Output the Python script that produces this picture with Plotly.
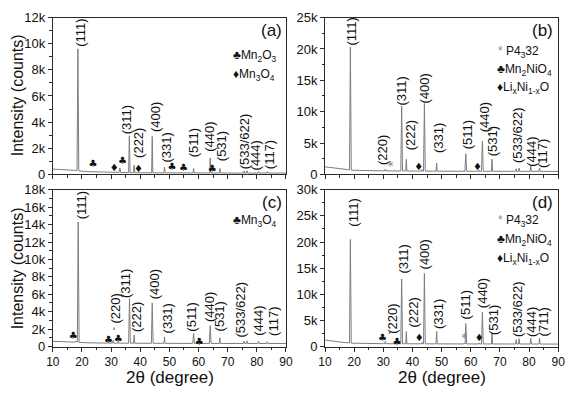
import plotly.graph_objects as go

# ---------------- data ----------------
# Panel (a)
xa = [10, 13, 16, 18.3, 18.6, 18.9, 22, 26, 30, 32.7, 33.0, 33.3, 36.0, 36.25, 36.5, 37.7, 37.9, 38.1,
      43.9, 44.1, 44.3, 48.1, 48.3, 48.5, 58.1, 58.3, 58.5, 63.8, 64.0, 64.2, 67.1, 67.3, 67.5,
      75.4, 75.6, 75.8, 76.4, 76.6, 76.8, 80.4, 80.6, 80.8, 83.4, 83.6, 83.8, 90]
ya = [400, 370, 330, 300, 9600, 260, 210, 170, 150, 150, 480, 140, 130, 2950, 130, 130, 700, 125,
      120, 2900, 120, 115, 560, 115, 110, 450, 110, 105, 1250, 105, 105, 450, 105,
      100, 260, 100, 100, 280, 100, 100, 220, 100, 100, 200, 100, 100]

# Panel (b)
xb = [10, 13, 16, 18.4, 18.7, 19.0, 22, 26, 30.5, 30.7, 30.9, 33, 36.0, 36.3, 36.6, 37.7, 37.9, 38.1,
      43.1, 43.3, 43.5, 43.8, 44.1, 44.4, 48.1, 48.3, 48.5, 58.0, 58.3, 58.6, 62.7, 62.9, 63.1,
      63.7, 64.0, 64.3, 67.1, 67.3, 67.5, 75.4, 75.6, 75.8, 76.4, 76.6, 76.8, 80.4, 80.6, 80.8,
      83.4, 83.6, 83.8, 90]
yb = [1200, 1000, 820, 720, 20300, 680, 620, 580, 560, 850, 555, 550, 540, 10900, 540, 535, 2400, 530,
      520, 780, 520, 520, 11300, 515, 510, 1800, 510, 500, 3300, 500, 495, 700, 495,
      495, 5300, 495, 490, 2400, 490, 485, 900, 485, 485, 1000, 485, 480, 1300, 480,
      480, 1000, 480, 470]

# Panel (c)
xc = [10, 13, 16, 17.6, 17.9, 18.2, 18.4, 18.7, 19.0, 22, 26, 28.8, 29.0, 29.2, 30.5, 30.7, 30.9,
      32.2, 32.4, 32.6, 36.0, 36.3, 36.6, 37.7, 37.9, 38.1, 43.8, 44.1, 44.4, 48.1, 48.3, 48.5,
      58.0, 58.3, 58.6, 59.8, 60.0, 60.2, 63.7, 64.0, 64.3, 67.1, 67.3, 67.5, 75.4, 75.6, 75.8,
      76.4, 76.6, 76.8, 80.4, 80.6, 80.8, 83.4, 83.6, 83.8, 90]
yc = [600, 560, 520, 500, 650, 500, 500, 14300, 470, 430, 400, 390, 520, 390, 390, 700, 390,
      385, 550, 385, 380, 5500, 380, 380, 1300, 375, 370, 5000, 370, 365, 1100, 365,
      360, 1500, 360, 360, 480, 360, 355, 2400, 355, 355, 1000, 355, 350, 600, 350,
      350, 650, 350, 350, 600, 350, 350, 550, 350, 350]

# Panel (d)
xd = [10, 13, 16, 18.4, 18.7, 19.0, 22, 26, 29.8, 30.0, 30.2, 30.5, 30.7, 30.9, 35.0, 35.2, 35.4,
      36.0, 36.3, 36.6, 37.7, 37.9, 38.1, 43.1, 43.3, 43.5, 43.8, 44.1, 44.4, 48.1, 48.3, 48.5,
      57.6, 57.8, 58.0, 58.1, 58.3, 58.6, 62.7, 62.9, 63.1, 63.7, 64.0, 64.3, 67.1, 67.3, 67.5,
      75.4, 75.6, 75.8, 76.4, 76.6, 76.8, 80.4, 80.6, 80.8, 83.4, 83.6, 83.8, 90]
yd = [1250, 1000, 800, 700, 20500, 650, 600, 560, 540, 700, 540, 540, 1000, 540, 530, 650, 530,
      530, 12900, 530, 525, 2900, 525, 520, 800, 520, 520, 14000, 515, 510, 2900, 510,
      500, 650, 500, 500, 4400, 500, 495, 700, 495, 495, 6600, 495, 490, 2600, 490,
      485, 1300, 485, 485, 1500, 485, 480, 1600, 480, 480, 1600, 480, 470]

# Peak labels
labels_a = ["(111)", "(311)", "(222)", "(400)", "(331)", "(511)", "(440)", "(531)", "(533/622)", "(444)", "(117)"]
labels_b = ["(111)", "(220)", "(311)", "(222)", "(400)", "(331)", "(511)", "(440)", "(531)", "(533/622)", "(444)", "(117)"]
labels_c = ["(111)", "(220)", "(311)", "(222)", "(400)", "(331)", "(511)", "(440)", "(531)", "(533/622)", "(444)", "(117)"]
labels_d = ["(111)", "(220)", "(311)", "(222)", "(400)", "(331)", "(511)", "(440)", "(531)", "(533/622)", "(444)", "(711)"]

# Phase markers
a_club_x = [23.8, 33.9, 50.9, 54.8, 64.7]; a_club_y = [740, 980, 540, 420, 370]
a_diam_x = [31.1, 39.4]; a_diam_y = [470, 390]
b_star_x = [32.5]; b_star_y = [1200]
b_diam_x = [42.2, 62.3]; b_diam_y = [1100, 1100]
c_club_x = [17.0, 29.1, 32.4, 60.2]; c_club_y = [1200, 700, 800, 500]
c_tick_x = [31.0]; c_tick_y = [1500]
d_club_x = [29.7, 34.7]; d_club_y = [1600, 850]
d_tick_x = [32.2]; d_tick_y = [1800]
d_diam_x = [42.3, 62.9]; d_diam_y = [1500, 1500]
d_star_x = [57.8]; d_star_y = [1500]

# Tick labels
x_ticks = [10, 20, 30, 40, 50, 60, 70, 80, 90]
ya_ticks = [0, 2000, 4000, 6000, 8000, 10000, 12000]; ya_text = ["0", "2k", "4k", "6k", "8k", "10k", "12k"]
yb_ticks = [0, 5000, 10000, 15000, 20000, 25000]; yb_text = ["0", "5k", "10k", "15k", "20k", "25k"]
yc_ticks = [0, 2000, 4000, 6000, 8000, 10000, 12000, 14000, 16000, 18000]
yc_text = ["0", "2k", "4k", "6k", "8k", "10k", "12k", "14k", "16k", "18k"]
yd_ticks = [0, 5000, 10000, 15000, 20000, 25000, 30000]; yd_text = ["0", "5k", "10k", "15k", "20k", "25k", "30k"]

# ---------------- layout helpers ----------------
W, H = 572, 393
FONT = "Liberation Sans, Arial, DejaVu Sans, sans-serif"
LINE_COLOR = "#7d7d7d"
AX_COLOR = "#2a2a2a"


def px_x(p):
    return p / W


def px_y(p):
    return 1 - p / H


dom_x_left = [px_x(47), px_x(286)]
dom_x_right = [px_x(326), px_x(565)]
dom_y_top = [px_y(174), px_y(11)]
dom_y_bot = [px_y(353), px_y(190)]

fig = go.Figure()

panels = [
    dict(x=xa, y=ya, xa="x", ya="y"),
    dict(x=xb, y=yb, xa="x2", ya="y2"),
    dict(x=xc, y=yc, xa="x3", ya="y3"),
    dict(x=xd, y=yd, xa="x4", ya="y4"),
]
for p in panels:
    fig.add_trace(go.Scatter(x=p["x"], y=p["y"], xaxis=p["xa"], yaxis=p["ya"], mode="lines",
                             line=dict(color=LINE_COLOR, width=1), showlegend=False, hoverinfo="skip"))


def add_symbols(xs, ys, sym, xaxis, yaxis, color="#111", size=10):
    fig.add_trace(go.Scatter(x=xs, y=ys, xaxis=xaxis, yaxis=yaxis, mode="text",
                             text=[sym] * len(xs), textposition="middle center",
                             textfont=dict(family="DejaVu Sans", size=size, color=color),
                             showlegend=False, hoverinfo="skip"))


add_symbols(a_club_x, a_club_y, "♣", "x", "y")
add_symbols(a_diam_x, a_diam_y, "♦", "x", "y")
add_symbols(b_star_x, b_star_y, "*", "x2", "y2", color="#8a8a8a", size=12)
add_symbols(b_diam_x, b_diam_y, "♦", "x2", "y2")
add_symbols(c_club_x, c_club_y, "♣", "x3", "y3")
add_symbols(c_tick_x, c_tick_y, "ʹ", "x3", "y3", size=10)
add_symbols(d_club_x, d_club_y, "♣", "x4", "y4")
add_symbols(d_tick_x, d_tick_y, "ʹ", "x4", "y4", size=10)
add_symbols(d_diam_x, d_diam_y, "♦", "x4", "y4")
add_symbols(d_star_x, d_star_y, "*", "x4", "y4", color="#8a8a8a", size=12)

# ---- peak label positions (layout) ----
lab_pos = {
    ("x", "y"): (labels_a,
                 [19.7, 35.3, 39.3, 45.2, 48.9, 58.1, 63.9, 67.9, 75.9, 79.6, 84.6],
                 [9700, 3000, 1200, 3200, 850, 1200, 1650, 900, 300, 200, 300]),
    ("x2", "y2"): (labels_b,
                   [19.1, 29.7, 36.4, 39.2, 44.2, 48.7, 58.7, 64.8, 67.6, 76.0, 80.8, 84.4],
                   [20300, 1400, 10900, 3700, 11100, 3200, 3900, 6500, 2700, 1700, 1100, 900]),
    ("x3", "y3"): (labels_c,
                   [19.7, 31.6, 34.7, 38.7, 45.0, 49.2, 57.6, 63.6, 67.3, 74.5, 80.7, 85.7],
                   [14500, 2500, 5500, 1600, 5300, 1400, 1600, 2700, 1600, 900, 1100, 1100]),
    ("x4", "y4"): (labels_d,
                   [19.7, 33.1, 37.0, 40.3, 44.2, 49.2, 58.2, 64.3, 67.6, 76.0, 80.8, 84.9],
                   [22800, 2300, 13800, 3500, 14500, 3200, 5000, 7200, 2000, 1700, 1700, 1700]),
}
annotations = []
for (xr, yr), (txts, lx, ly) in lab_pos.items():
    for t, xx, yy in zip(txts, lx, ly):
        annotations.append(dict(x=xx, y=yy, xref=xr, yref=yr, text=t, textangle=-90,
                                showarrow=False, xanchor="center", yanchor="bottom",
                                font=dict(family=FONT, size=13, color="#111"), borderpad=0))

# panel letters
for txt, xr, yc_ in [("(a)", 284, 24), ("(b)", 562, 24), ("(c)", 284, 203), ("(d)", 562, 203)]:
    annotations.append(dict(x=px_x(xr), y=px_y(yc_), xref="paper", yref="paper", text=txt,
                            showarrow=False, xanchor="right", yanchor="middle",
                            font=dict(family=FONT, size=17, color="#111")))

GREY_STAR = "<span style='color:#8a8a8a'>*</span>"
legend_items = [
    ("♣Mn<sub>2</sub>O<sub>3</sub>", 230, 51),
    ("♦Mn<sub>3</sub>O<sub>4</sub>", 230, 71),
    (GREY_STAR + " P4<sub>3</sub>32", 501, 47),
    ("♣Mn<sub>2</sub>NiO<sub>4</sub>", 500, 65),
    ("♦Li<sub>x</sub>Ni<sub>1-x</sub>O", 500, 84),
    ("♣Mn<sub>3</sub>O<sub>4</sub>", 230, 223),
    (GREY_STAR + " P4<sub>3</sub>32", 501, 222),
    ("♣Mn<sub>2</sub>NiO<sub>4</sub>", 500, 242),
    ("♦Li<sub>x</sub>Ni<sub>1-x</sub>O", 500, 262),
]
for txt, xx, yy in legend_items:
    annotations.append(dict(x=px_x(xx), y=px_y(yy), xref="paper", yref="paper", text=txt,
                            showarrow=False, xanchor="left", yanchor="middle",
                            font=dict(family=FONT, size=12, color="#111")))

# axis titles
for yy in [92, 272]:
    annotations.append(dict(x=px_x(11), y=px_y(yy), xref="paper", yref="paper",
                            text="Intensity (counts)", textangle=-90, showarrow=False,
                            xanchor="center", yanchor="middle",
                            font=dict(family=FONT, size=16, color="#111")))
for xx in [167, 446]:
    annotations.append(dict(x=px_x(xx), y=px_y(385), xref="paper", yref="paper",
                            text="2θ (degree)", showarrow=False, xanchor="center", yanchor="middle",
                            font=dict(family=FONT, size=17, color="#111")))


def xaxis(domain, anchor, show_labels):
    return dict(domain=domain, anchor=anchor, range=[10, 90], tickvals=x_ticks,
                ticktext=[str(v) for v in x_ticks], showticklabels=show_labels,
                ticks="outside", ticklen=4, tickwidth=1, tickcolor=AX_COLOR,
                minor=dict(dtick=5, tick0=0, ticks="outside", ticklen=2.5, tickcolor=AX_COLOR),
                showline=True, linecolor=AX_COLOR, linewidth=1, mirror=True,
                showgrid=False, zeroline=False,
                tickfont=dict(family=FONT, size=12, color="#111"))


def yaxis(domain, anchor, rng, tv, tt, minor_dt):
    return dict(domain=domain, anchor=anchor, range=rng, tickvals=tv, ticktext=tt,
                ticks="outside", ticklen=4, tickwidth=1, tickcolor=AX_COLOR,
                minor=dict(dtick=minor_dt, tick0=0, ticks="outside", ticklen=2.5, tickcolor=AX_COLOR),
                showline=True, linecolor=AX_COLOR, linewidth=1, mirror=True,
                showgrid=False, zeroline=False,
                tickfont=dict(family=FONT, size=13, color="#111"))


fig.update_layout(
    width=W, height=H, margin=dict(l=0, r=0, t=0, b=0),
    paper_bgcolor="white", plot_bgcolor="white", showlegend=False,
    xaxis=xaxis(dom_x_left, "y", False),
    yaxis=yaxis(dom_y_top, "x", [0, 12000], ya_ticks, ya_text, 1000),
    xaxis2=xaxis(dom_x_right, "y2", False),
    yaxis2=yaxis(dom_y_top, "x2", [0, 25000], yb_ticks, yb_text, 2500),
    xaxis3=xaxis(dom_x_left, "y3", True),
    yaxis3=yaxis(dom_y_bot, "x3", [0, 18000], yc_ticks, yc_text, 1000),
    xaxis4=xaxis(dom_x_right, "y4", True),
    yaxis4=yaxis(dom_y_bot, "x4", [0, 30000], yd_ticks, yd_text, 2500),
    annotations=annotations,
)

fig.write_html("out.html", config={"displayModeBar": False},
               post_script="document.body.style.margin='0';document.body.style.overflow='hidden';")
